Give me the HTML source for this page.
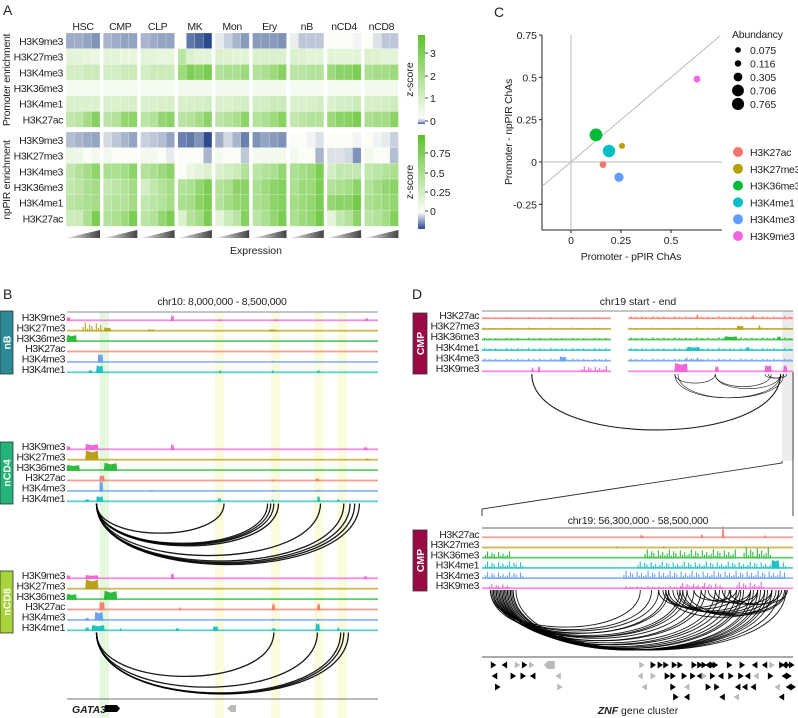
<!DOCTYPE html>
<html><head><meta charset="utf-8"><style>
html,body{margin:0;padding:0;background:#fff;}
svg{display:block;font-family:"Liberation Sans",Arial,sans-serif;}
</style></head><body>
<svg id="fig" width="798" height="718" viewBox="0 0 798 718" xmlns="http://www.w3.org/2000/svg">
<g id="gA"></g>
<g id="gC"></g>
<g id="gB"></g>
<g id="gD"></g>
</svg>
<script>
// ---------- Panel A data ----------
const cellTypes = ["HSC","CMP","CLP","MK","Mon","Ery","nB","nCD4","nCD8"];
const marks = ["H3K9me3","H3K27me3","H3K4me3","H3K36me3","H3K4me1","H3K27ac"];
const marksLow = ["H3K9me3","H3K27me3","H3K4me3","H3K36me3","H3K4me1","H3K27ac"];
const promoterVals = [
 [[-.45,-.45,-.5,-.6],[-.4,-.45,-.5,-.5],[-.4,-.45,-.5,-.5],[0,-.75,-.85,-1],[-.1,-.25,-.4,-.55],[-.55,-.55,-.55,-.6],[-.08,-.3,-.3,-.3],[0,0,0,-.05],[0,-.15,-.3,-.3]],
 [[.15,.15,.12,.1],[.15,.15,.12,.12],[.15,.15,.12,.12],[.4,.2,.15,.15],[.2,.18,.15,.15],[.2,.2,.2,.2],[.2,.18,.15,.15],[.15,.15,.15,.15],[.2,.18,.15,.15]],
 [[.25,.25,.3,.3],[.25,.25,.3,.3],[.25,.3,.3,.3],[.6,.78,.7,.82],[.45,.5,.5,.6],[.45,.5,.6,.72],[.4,.42,.45,.45],[.6,.7,.7,.8],[.5,.55,.55,.6]],
 [[.03,.03,.03,.04],[.03,.03,.03,.03],[.03,.03,.03,.03],[.05,.05,.05,.05],[.05,.05,.05,.05],[.05,.05,.05,.05],[.03,.03,.03,.03],[.03,.03,.03,.03],[.05,.05,.05,.05]],
 [[.2,.2,.2,.2],[.2,.2,.22,.22],[.2,.2,.22,.22],[.22,.22,.22,.25],[.2,.2,.22,.25],[.25,.25,.3,.3],[.2,.2,.22,.25],[.2,.25,.25,.3],[.22,.22,.25,.28]],
 [[.35,.4,.55,.75],[.4,.45,.65,.7],[.4,.45,.65,.7],[.4,.45,.55,.7],[.4,.45,.5,.7],[.45,.5,.6,.72],[.35,.4,.45,.45],[.6,.7,.72,.8],[.5,.55,.55,.7]]
];
const npPIRVals = [
 [[-.35,-.4,-.45,-.5],[-.2,-.3,-.4,-.5],[-.25,-.3,-.35,-.5],[-.7,-.75,-.6,-1],[-.45,-.2,-.4,-.7],[-.6,-.5,-.55,-.6],[0,0,-.05,-.15],[0,0,0,-.05],[0,-.05,-.1,-.25]],
 [[.1,.08,0,.05],[.05,0,0,0],[.05,.05,0,-.1],[0,0,0,-.4],[.05,0,0,-.3],[.05,.05,.05,.05],[.05,0,0,-.4],[-.15,-.15,-.2,-.6],[.05,0,0,-.35]],
 [[.35,.45,.55,.7],[.5,.5,.55,.7],[.45,.5,.6,.7],[0,.1,.15,.2],[.2,.25,.3,.45],[.4,.45,.5,.65],[.5,.55,.6,.8],[.25,.35,.35,.35],[.35,.4,.45,.5]],
 [[.35,.4,.5,.55],[.35,.4,.45,.55],[.25,.35,.45,.55],[.45,.5,.65,.8],[.45,.5,.7,.7],[.5,.6,.7,.75],[.5,.6,.6,.8],[.45,.5,.55,.7],[.45,.55,.65,.7]],
 [[.4,.45,.5,.55],[.4,.45,.45,.55],[.35,.4,.45,.55],[.5,.55,.7,.8],[.45,.55,.65,.7],[.5,.55,.7,.75],[.55,.6,.65,.8],[.65,.7,.7,.85],[.5,.55,.6,.65]],
 [[.3,.3,.5,.8],[.45,.5,.6,.8],[.4,.45,.65,.8],[.2,.45,.55,.8],[.15,.3,.4,.75],[.4,.5,.65,.8],[.5,.6,.65,.85],[.15,.35,.45,.7],[.4,.45,.55,.75]]
];
const topTickLabels = ["0","1","2","3"];
const botTickLabels = ["0","0.25","0.5","0.75"];

// ---------- Panel C data ----------
const cMarks = ["H3K27ac","H3K27me3","H3K36me3","H3K4me1","H3K4me3","H3K9me3"];
const cX = [0.16,0.255,0.125,0.19,0.24,0.63];
const cY = [-0.015,0.095,0.16,0.065,-0.09,0.49];
const cAbund = [0.116,0.075,0.765,0.706,0.305,0.116];
const cColors = ["#f8766d","#b79f00","#00ba38","#00bfc4","#619cff","#f564e3"];
const cXTicks = [0,0.25,0.5];
const cXTickLabels = ["0","0.25","0.5"];
const cYTicks = [-0.25,0,0.25,0.5,0.75];
const cYTickLabels = ["-0.25","0","0.25","0.5","0.75"];
const abundLevels = [0.075,0.116,0.305,0.706,0.765];

// ---------- Panel B data ----------
const trackNames = ["H3K9me3","H3K27me3","H3K36me3","H3K27ac","H3K4me3","H3K4me1"];
const trackColors = {"H3K9me3":"#f266d8","H3K27me3":"#bba11a","H3K36me3":"#2fbb3f","H3K27ac":"#f67f73","H3K4me3":"#6ea2f2","H3K4me1":"#22c2c4"};
const bPeaks = {
 nB:{H3K9me3:[[0,1,4],[33.5,34.3,6],[49,49.6,2],[67,67.6,2],[96,96.8,3]],
     H3K27me3:[[5,11,9],[12,14,4],[26,28,2],[65,67,2]],
     H3K36me3:[[0,3,7]],H3K27ac:[],H3K4me3:[[10,11.5,9],[66,66.4,2]],
     H3K4me1:[[7,8,3],[9.5,11.5,8],[49,49.6,3],[66,66.4,3],[80.5,81.2,3]]},
 nCD4:{H3K9me3:[[0,1,4],[6,10,6],[33.5,34.3,6],[95.5,96.5,3]],
     H3K27me3:[[6,10,10],[96,97,2]],
     H3K36me3:[[0,4,6],[12,16,8]],H3K27ac:[[10.5,12,6],[66,66.5,2],[80,81,3]],
     H3K4me3:[[10.5,11.5,11],[27,27.4,2],[66,66.4,2],[80.5,81,2]],
     H3K4me1:[[6,7,3],[9.5,11.5,6],[48.5,49.5,4],[66,66.5,3],[80.5,81.3,6],[87,87.5,3]]},
 nCD8:{H3K9me3:[[0,1,4],[6,10,4],[33.5,34.3,6],[95.5,96.5,3]],
     H3K27me3:[[6,10,10]],
     H3K36me3:[[0,3,6],[12,16,9]],H3K27ac:[[10.5,12,9],[36,36.5,3],[66,66.8,7],[80.5,81.3,7]],
     H3K4me3:[[6,7,3],[9,11.5,9],[66,66.4,2],[80.5,81,2]],
     H3K4me1:[[6,7,4],[8,12,6],[17,17.5,3],[35,36,3],[47,48.5,5],[66,67,3],[80,81.2,8],[87,87.5,4]]}
};
const bArcStart = [9.5,9.5,9.5,9.5,9.5,9.5,9.5,9.5,9.5,9.5];
const bArcEndCD4 = [50.5,64.5,65.5,66.5,68,81.5,89,91,92.5,94];
const bArcEndCD8 = [66.5,80.5,88,89,90.5];
const bHighlightsYellow = [[47.5,50.5],[65.5,68.5],[79.5,82.5],[87,90]];
const bHighlightGreen = [10.5,13.5];

// ---------- Panel D data ----------
const dTrackNames = ["H3K27ac","H3K27me3","H3K36me3","H3K4me1","H3K4me3","H3K9me3"];
const dTopPeaks = {
 H3K27ac:[[0,41,2],[47,100,3],[69,69.4,5],[87,87.4,4]],
 H3K27me3:[[0,41,2],[47,100,2],[82,84,4],[89,89.4,5]],
 H3K36me3:[[0,41,2.5],[47,100,3],[78,82,4],[95,96,4]],
 H3K4me1:[[0,41,3],[47,100,3],[66,70,4],[85,86,4]],
 H3K4me3:[[0,41,3],[47,100,3],[25,27,5],[65,70,4]],
 H3K9me3:[[16,16.5,5],[18,18.6,6],[32,40,6],[62,66,9],[75,76,6],[91,93,7],[97,98,7]]
};
const dTopArcs = [[16,96],[62,96],[62,75],[63,97],[75,93],[75,96],[91,97],[92,98]];
const dLowPeaks = {
 H3K27ac:[[57.42,57.44,3],[57.85,57.86,4],[58.0,58.01,13],[58.3,58.31,3]],
 H3K27me3:[[57.25,57.26,2],[57.58,57.59,2]],
 H3K36me3:[[56.32,56.5,7],[57.45,58.1,9],[58.15,58.35,11]],
 H3K4me1:[[56.32,56.6,7],[57.4,58.45,7],[58.35,58.4,9]],
 H3K4me3:[[56.32,56.6,7],[57.3,58.45,8]],
 H3K9me3:[[56.35,56.5,5],[57.3,57.9,3],[57.7,58.0,6],[58.1,58.3,7]]
};
const dLowArcStart = [56.36,56.37,56.38,56.39,56.40,56.41,56.42,56.43,56.44,56.45,56.46,56.47,56.48,56.49,56.50,56.51,56.52,56.36,56.38,56.40,56.42,56.44,56.46,56.48,56.50,56.52,56.54,57.55,57.58,57.60,57.62,57.65,57.68,57.70,57.72,57.80,57.85,57.90,57.95,58.00,58.05,57.60,57.75];
const dLowArcEnd   = [57.42,57.50,57.55,57.62,57.70,57.75,57.80,57.88,57.95,58.02,58.10,58.15,58.20,58.25,58.30,58.35,58.40,57.60,57.72,57.85,57.98,58.06,58.13,58.22,58.27,58.32,58.45,58.05,58.12,58.20,58.25,58.30,58.35,58.40,58.45,58.10,58.20,58.25,58.35,58.42,58.46,58.38,58.44];
const geneRows = [
 [[56.38,1],[56.46,-1],[56.55,1,1],[56.6,1],[56.65,1,1],[56.78,-2,1],[57.43,1,1],[57.51,1],[57.56,1],[57.6,1],[57.66,1],[57.7,1],[57.8,1],[57.84,1],[57.87,1],[57.9,-1],[57.93,1],[57.95,1],[58.05,1],[58.14,1],[58.23,-1],[58.3,-1],[58.35,1,1],[58.44,-1],[58.49,1]],
 [[56.39,-1],[56.52,1],[56.59,1],[56.66,-1],[56.84,-1,1],[57.42,-1,1],[57.51,1,1],[57.61,1],[57.65,1],[57.73,1],[57.79,1],[57.84,-1],[57.87,1,1],[57.93,1],[57.99,-1],[58.06,1],[58.13,1],[58.18,-1],[58.24,-1,1],[58.34,1]],
 [[56.41,1],[56.85,1,1],[57.45,-1,1],[57.65,1],[57.75,-1,1],[57.9,1],[57.96,1],[58.11,-1],[58.16,-1],[58.22,-1],[58.39,-1,1]],
 [[57.67,1],[57.75,-1],[58.0,-1],[58.1,-1,1]]
];
const geneRowsExtra = [[[58.42,1],[58.46,1]],[[58.44,-1],[58.47,1]],[[58.47,-1],[58.5,1]],[[58.42,-1]]];

// ---------- helpers ----------
const NS="http://www.w3.org/2000/svg";
function mk(parent,tag,attrs,text){const e=document.createElementNS(NS,tag);for(const k in attrs)e.setAttribute(k,attrs[k]);if(text!==undefined)e.textContent=text;parent.appendChild(e);return e;}
function lerp(a,b,t){return a+(b-a)*t;}
function mix(c1,c2,t){const p=c=>[parseInt(c.slice(1,3),16),parseInt(c.slice(3,5),16),parseInt(c.slice(5,7),16)];const a=p(c1),b=p(c2);return "rgb("+a.map((v,i)=>Math.round(lerp(v,b[i],t))).join(",")+")";}
function heatColor(v){return v>=0?mix("#fbfdf7","#5cc22a",Math.min(v,1)):mix("#fbfdf7","#2c4a8e",Math.min(-v,1));}
function txt(parent,x,y,s,attrs,name){const t=mk(parent,"text",Object.assign({x:x,y:y,"font-size":11,fill:"#222"},attrs||{}),s);return t;}
const SPIKE=[.5,1,.3,.8,.6,.2,.9,.4,.7,.35];

const svg=document.getElementById("fig");
const gA=document.getElementById("gA"),gB=document.getElementById("gB"),gC=document.getElementById("gC"),gD=document.getElementById("gD");

txt(svg,3,15,"A",{"font-size":14},"panel-label-a");
txt(svg,3,299,"B",{"font-size":14},"panel-label-b");
txt(svg,494,17,"C",{"font-size":14},"panel-label-c");
txt(svg,412,299,"D",{"font-size":14},"panel-label-d");

// ---------- Panel A ----------
const blockX = i => 66 + i*37.3;
const blockW = 34;
const rowH = 15.7;
const LBL={"font-size":10.5,"letter-spacing":-0.4,"text-anchor":"end"};
function drawHeat(vals,y0,labels,groupName){
  const g=mk(gA,"g",{});
  
  
  for(let m=0;m<labels.length;m++){
    txt(g,63,y0+m*rowH+rowH/2+4,labels[m],LBL,"row-label-"+labels[m].toLowerCase());
    for(let c=0;c<cellTypes.length;c++){
      for(let b=0;b<4;b++){
        const r=mk(g,"rect",{x:blockX(c)+b*blockW/4,y:y0+m*rowH,width:blockW/4,height:rowH,fill:heatColor(vals[m][c][b]),stroke:"#ffffff","stroke-opacity":0.35,"stroke-width":0.5});
        
        
      }
    }
  }
}
for(let c=0;c<cellTypes.length;c++){
  txt(gA,blockX(c)+blockW/2,30,cellTypes[c],{"text-anchor":"middle","font-size":10.5,"letter-spacing":-0.3},"column-header-"+cellTypes[c].toLowerCase());
  const tri=mk(gA,"polygon",{points:(blockX(c))+",238 "+(blockX(c)+blockW)+",230 "+(blockX(c)+blockW)+",238",fill:"url(#triGrad)"});
  
  
}
const defs=mk(svg,"defs",{});
const tg=mk(defs,"linearGradient",{id:"triGrad",x1:0,y1:0,x2:1,y2:0});
mk(tg,"stop",{offset:0,"stop-color":"#eeeeee"});mk(tg,"stop",{offset:1,"stop-color":"#444444"});
const cg1=mk(defs,"linearGradient",{id:"cb1",x1:0,y1:1,x2:0,y2:0});
mk(cg1,"stop",{offset:0,"stop-color":"#3c5a9a"});mk(cg1,"stop",{offset:0.03,"stop-color":"#b8c4dc"});mk(cg1,"stop",{offset:0.07,"stop-color":"#fbfdf7"});mk(cg1,"stop",{offset:1,"stop-color":"#5cc22a"});
const cg2=mk(defs,"linearGradient",{id:"cb2",x1:0,y1:1,x2:0,y2:0});
mk(cg2,"stop",{offset:0,"stop-color":"#2c4a8e"});mk(cg2,"stop",{offset:0.18,"stop-color":"#fbfdf7"});mk(cg2,"stop",{offset:1,"stop-color":"#5cc22a"});
drawHeat(promoterVals,33,marks,"promoter-heatmap");
drawHeat(npPIRVals,132,marksLow,"nppir-heatmap");
txt(gA,10,80,"Promoter enrichment",{"text-anchor":"middle","font-size":10.5,"letter-spacing":-0.3,transform:"rotate(-90 10 80)"},"promoter-axis-title");
txt(gA,10,180,"npPIR enrichment",{"text-anchor":"middle","font-size":10.5,"letter-spacing":-0.3,transform:"rotate(-90 10 180)"},"nppir-axis-title");
txt(gA,256,254,"Expression",{"text-anchor":"middle","font-size":10.5},"expression-axis-title");
function colorbar(y0,y1,grad,ticks,tickY,name){
  const g=mk(gA,"g",{});
  mk(g,"rect",{x:418,y:y0,width:7,height:y1-y0,fill:"url(#"+grad+")"});
  ticks.forEach((t,i)=>{mk(g,"line",{x1:425,x2:428,y1:tickY[i],y2:tickY[i],stroke:"#444"});txt(g,430,tickY[i]+4,t,{"font-size":10.5},"colorbar-tick");});
  txt(g,413,(y0+y1)/2,"z-score",{"text-anchor":"middle","font-size":10.5,transform:"rotate(-90 413 "+((y0+y1)/2)+")"},"colorbar-title");
}
colorbar(35,124,"cb1",topTickLabels,[121,98,76,53],"promoter-colorbar");
colorbar(135,229,"cb2",botTickLabels,[211,192,173,153],"nppir-colorbar");

// ---------- Panel C ----------
const cx = v => 571 + v*200;
const cy = v => 162 - v*169.3;
const cR = a => 1.5 + Math.sqrt(a)*5.6;
mk(gC,"line",{x1:542,y1:35,x2:542,y2:230,stroke:"#222","stroke-width":1});
mk(gC,"line",{x1:542,y1:230,x2:722,y2:230,stroke:"#222","stroke-width":1});
mk(gC,"line",{x1:cx(0),y1:35,x2:cx(0),y2:230,stroke:"#bbb"});
mk(gC,"line",{x1:542,y1:cy(0),x2:722,y2:cy(0),stroke:"#bbb"});
mk(gC,"line",{x1:cx(-0.145),y1:cy(-0.145),x2:cx(0.745),y2:cy(0.745),stroke:"#bbb"});
cYTicks.forEach((t,i)=>{mk(gC,"line",{x1:539,x2:542,y1:cy(t),y2:cy(t),stroke:"#222"});txt(gC,537,cy(t)+4,cYTickLabels[i],{"text-anchor":"end","font-size":10.5},"y-tick-label");});
cXTicks.forEach((t,i)=>{mk(gC,"line",{x1:cx(t),x2:cx(t),y1:230,y2:233,stroke:"#222"});txt(gC,cx(t),244,cXTickLabels[i],{"text-anchor":"middle","font-size":10.5},"x-tick-label");});
txt(gC,631,260,"Promoter - pPIR ChAs",{"text-anchor":"middle","font-size":10.5,"letter-spacing":-0.2},"x-axis-title");
txt(gC,512,132,"Promoter - npPIR ChAs",{"text-anchor":"middle","font-size":10.5,"letter-spacing":-0.2,transform:"rotate(-90 512 132)"},"y-axis-title");
cMarks.forEach((m,i)=>{
  const c=mk(gC,"circle",{cx:cx(cX[i]),cy:cy(cY[i]),r:cR(cAbund[i]),fill:cColors[i]});
  
  
});
txt(gC,732,38,"Abundancy",{"font-size":10.5,"letter-spacing":-0.2},"size-legend-title");
abundLevels.forEach((a,i)=>{
  const y=50+i*13.5;
  const c=mk(gC,"circle",{cx:738,cy:y,r:cR(a)*0.95,fill:"#000"});
  
  txt(gC,750,y+4,String(a),{"font-size":10.5},"size-legend-label");
});
cMarks.forEach((m,i)=>{
  const y=152+i*16.8;
  const c=mk(gC,"circle",{cx:738,cy:y,r:5,fill:cColors[i]});
  
  txt(gC,750,y+4,m,{"font-size":10.5,"letter-spacing":-0.3},"legend-label");
});

// ---------- track drawing ----------
function drawTrack(g,xs,base,color,peaks,gaps,x0,x1,name){
  const tg=mk(g,"g",{});
  const segs=[];let s=x0;
  (gaps||[]).forEach(gp=>{segs.push([s,xs(gp[0])]);s=xs(gp[1]);});segs.push([s,x1]);
  segs.forEach(sg=>{mk(tg,"rect",{x:sg[0],y:base-1.6,width:sg[1]-sg[0],height:1.8,fill:color,opacity:0.75});});
  peaks.forEach(p=>{
    const a=xs(p[0]),b=Math.max(xs(p[1]),a+1.5),h=p[2];
    if(b-a>14){
      let k=0;
      for(let x=a;x<b;x+=2.2){const hh=h*SPIKE[k%SPIKE.length];k++;
        mk(tg,"rect",{x:x,y:base-hh,width:1.1,height:hh,fill:color});}
    } else {
      mk(tg,"polygon",{points:(a-0.5)+","+base+" "+(a+0.3)+","+(base-h)+" "+((a+b)/2)+","+(base-h*0.8)+" "+(b-0.3)+","+(base-h*0.95)+" "+(b+0.5)+","+base,fill:color});
    }
  });
}
function arc(g,x1,x2,y,k,maxD,name,w){
  const d=Math.min((x2-x1)*k,maxD);
  const p=mk(g,"path",{d:"M"+x1+","+y+" C"+x1+","+(y+d)+" "+x2+","+(y+d)+" "+x2+","+y,fill:"none",stroke:"#000","stroke-width":w||1.1,"stroke-opacity":0.9});
  
}
function cellBox(g,x,y,w,h,fill,label,name){
  const r=mk(g,"rect",{x:x,y:y,width:w,height:h,fill:fill,stroke:"#333","stroke-width":0.8});
  
  txt(g,x+w/2+4,y+h/2,label,{"text-anchor":"middle","font-size":10.5,"font-weight":"bold",fill:"#fff",transform:"rotate(-90 "+(x+w/2+4)+" "+(y+h/2)+")"},name+"-label");
}
const TL={"font-size":10.5,"letter-spacing":-0.5,"text-anchor":"end"};

// ---------- Panel B ----------
const xB = p => 67 + p*3.11;
[[bHighlightGreen[0],bHighlightGreen[1],"#e3f8df"]].concat(bHighlightsYellow.map(h=>[h[0],h[1],"#fbfbdd"])).forEach(h=>{
  const r=mk(gB,"rect",{x:xB(h[0]),y:312,width:xB(h[1])-xB(h[0]),height:406,fill:h[2]});
  
});
txt(gB,222,305,"chr10: 8,000,000 - 8,500,000",{"text-anchor":"middle","font-size":10.5,"letter-spacing":-0.2},"panel-b-title");
mk(gB,"line",{x1:67,x2:378,y1:312,y2:312,stroke:"#888","stroke-width":1});
const bCells=[["nB",321,"#2b8a96",311,63],["nCD4",450,"#25b37a",442,62],["nCD8",579,"#a6d43a",571,62]];
bCells.forEach(cell=>{
  const [nm,b0,col,by,bh]=cell;
  cellBox(gB,0,by,13,bh,col,nm,"cell-box-"+nm.toLowerCase());
  trackNames.forEach((t,i)=>{
    const base=b0+i*10.4;
    txt(gB,65,base,t,TL,"track-label");
    drawTrack(gB,xB,base,trackColors[t],bPeaks[nm][t],null,67,378,"track-"+nm.toLowerCase()+"-"+t.toLowerCase());
  });
});
bArcEndCD4.forEach((e,i)=>arc(gB,xB(bArcStart[i]),xB(e),503.5,0.31,82,"loop-ncd4",1.3));
bArcEndCD8.forEach((e,i)=>arc(gB,xB(bArcStart[i]),xB(e),632.5,0.33,82,"loop-ncd8",1.3));
mk(gB,"line",{x1:67,x2:378,y1:699,y2:699,stroke:"#777","stroke-width":1});
txt(gB,72,713,"GATA3",{"font-size":10.5,"font-weight":"bold","font-style":"italic"},"gene-label-gata3");
const ga=mk(gB,"polygon",{points:"105,705 117,705 120,708.5 117,712 105,712",fill:"#000"});

const gb=mk(gB,"polygon",{points:"227,708.5 231,705 236,705 236,712 231,712",fill:"#bbb"});


// ---------- Panel D top ----------
const xD = p => 482 + p*3.11;
const hl=mk(gD,"rect",{x:782,y:311,width:12,height:150,fill:"#ececec"});

txt(gD,638,305,"chr19 start - end",{"text-anchor":"middle","font-size":10.5},"panel-d-top-title");
mk(gD,"line",{x1:482,x2:793,y1:311,y2:311,stroke:"#888"});
cellBox(gD,413,313,14,61,"#9b0a45","CMP","cell-box-cmp-top");
dTrackNames.forEach((t,i)=>{
  const base=319+i*10.6;
  txt(gD,479,base,t,TL,"track-label");
  drawTrack(gD,xD,base,trackColors[t],dTopPeaks[t],[[41.5,47]],482,793,"track-cmp-top-"+t.toLowerCase());
});
dTopArcs.forEach(a=>arc(gD,xD(a[0]),xD(a[1]),374,0.3,75,"loop-cmp-top",a[1]-a[0]>50?1.1:0.6));
mk(gD,"polyline",{points:"782,461 782,463 482,509 482,516",fill:"none",stroke:"#333","stroke-width":0.9});
mk(gD,"line",{x1:793,y1:372,x2:793,y2:516,stroke:"#333","stroke-width":0.9});

// ---------- Panel D bottom ----------
const xM = mb => 482 + (mb-56.3)/2.2*311;
txt(gD,638,524,"chr19: 56,300,000 - 58,500,000",{"text-anchor":"middle","font-size":10.5,"letter-spacing":-0.2},"panel-d-bottom-title");
mk(gD,"line",{x1:482,x2:793,y1:528,y2:528,stroke:"#666"});
cellBox(gD,413,530,14,61,"#9b0a45","CMP","cell-box-cmp-bottom");
dTrackNames.forEach((t,i)=>{
  const base=538+i*10.2;
  txt(gD,479,base,t,TL,"track-label");
  drawTrack(gD,xM,base,trackColors[t],dLowPeaks[t],null,482,793,"track-cmp-bottom-"+t.toLowerCase());
});
dLowArcStart.forEach((s,i)=>arc(gD,xM(s),xM(dLowArcEnd[i]),590,0.33,80,"loop-cmp-bottom",0.9));
mk(gD,"line",{x1:482,x2:793,y1:657,y2:657,stroke:"#555"});
const rowY=[665,676,687,697];
geneRows.forEach((row,r)=>{
  row.concat(geneRowsExtra[r]).forEach(gn=>{
    const x=xM(gn[0]),y=rowY[r],dir=gn[1],gray=gn[2];
    let pts;
    if(dir===-2) pts=(x-6)+","+y+" "+(x-2)+","+(y-4)+" "+(x+5)+","+(y-4)+" "+(x+5)+","+(y+4)+" "+(x-2)+","+(y+4);
    else if(dir>0) pts=(x-2.5)+","+(y-3.5)+" "+(x+3)+","+y+" "+(x-2.5)+","+(y+3.5);
    else pts=(x+2.5)+","+(y-3.5)+" "+(x-3)+","+y+" "+(x+2.5)+","+(y+3.5);
    const p=mk(gD,"polygon",{points:pts,fill:gray?"#bbb":"#000"});
    
    
  });
});
const zt=mk(gD,"text",{x:638,y:714,"font-size":10.5,"text-anchor":"middle",fill:"#222"});


mk(zt,"tspan",{"font-style":"italic","font-weight":"bold"},"ZNF");
mk(zt,"tspan",{}," gene cluster");
</script>
</body></html>
